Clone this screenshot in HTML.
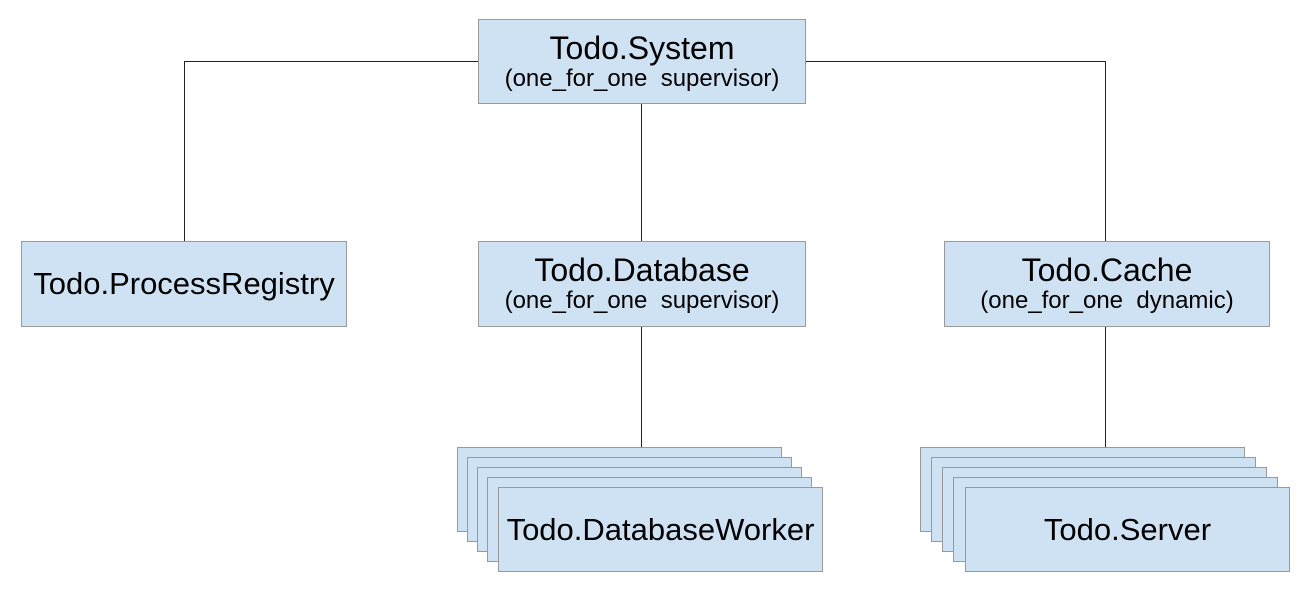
<!DOCTYPE html>
<html><head><style>
body{margin:0;width:1314px;height:614px;background:#fff;position:relative;overflow:hidden;font-family:"Liberation Sans",sans-serif;}
.b{position:absolute;background:#cfe2f3;border:1.5px solid #999;box-sizing:border-box;display:flex;flex-direction:column;align-items:center;justify-content:center;color:#000;}
.t{font-size:32px;line-height:34px;}
.s{font-size:24px;line-height:28px;white-space:nowrap;}
.l{position:absolute;background:#222;}
</style></head><body>
<div class="l" style="left:184px;top:61px;width:294px;height:1px"></div>
<div class="l" style="left:806px;top:61px;width:300px;height:1px"></div>
<div class="l" style="left:184px;top:61px;width:1px;height:180px"></div>
<div class="l" style="left:1105px;top:61px;width:1px;height:180px"></div>
<div class="l" style="left:641px;top:103px;width:1px;height:138px"></div>
<div class="l" style="left:641px;top:326px;width:1px;height:121px"></div>
<div class="l" style="left:1105px;top:326px;width:1px;height:121px"></div>

<div class="b" style="left:478px;top:19px;width:328px;height:85px"><div class="t">Todo.System</div><div class="s">(one_for_one&nbsp; supervisor)</div></div>
<div class="b" style="left:21px;top:241px;width:326px;height:86px"><div class="t" style="font-size:31px">Todo.ProcessRegistry</div></div>
<div class="b" style="left:478px;top:241px;width:328px;height:86px"><div class="t">Todo.Database</div><div class="s">(one_for_one&nbsp; supervisor)</div></div>
<div class="b" style="left:944px;top:241px;width:326px;height:86px"><div class="t">Todo.Cache</div><div class="s">(one_for_one&nbsp; dynamic)</div></div>

<div class="b" style="left:457px;top:447px;width:325px;height:85px"></div>
<div class="b" style="left:467px;top:457px;width:325px;height:85px"></div>
<div class="b" style="left:477px;top:467px;width:325px;height:85px"></div>
<div class="b" style="left:487px;top:477px;width:325px;height:85px"></div>
<div class="b" style="left:498px;top:487px;width:325px;height:85px"><div class="t" style="font-size:31px">Todo.DatabaseWorker</div></div>

<div class="b" style="left:920px;top:447px;width:325px;height:85px"></div>
<div class="b" style="left:931px;top:457px;width:325px;height:85px"></div>
<div class="b" style="left:942px;top:467px;width:325px;height:85px"></div>
<div class="b" style="left:953px;top:477px;width:325px;height:85px"></div>
<div class="b" style="left:965px;top:487px;width:325px;height:85px"><div class="t" style="font-size:31px">Todo.Server</div></div>
</body></html>
